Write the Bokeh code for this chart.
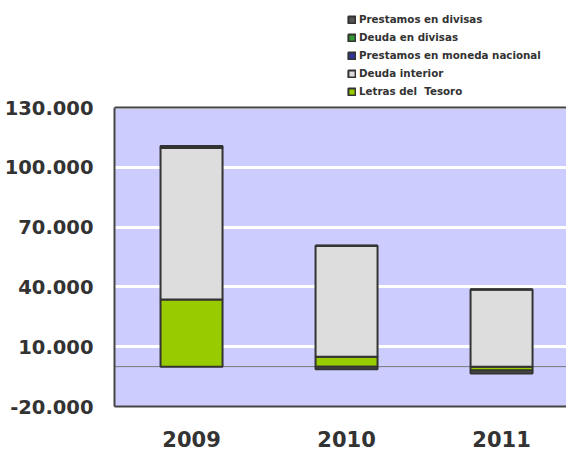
import numpy as np
from bokeh.plotting import figure
from bokeh.models import (Range1d, FixedTicker, Legend, LegendItem, Span,
                          BoxAnnotation, ColumnDataSource)
from bokeh.embed import file_html
from bokeh.resources import INLINE

# ---- data ----
years = ["2009", "2010", "2011"]
series_names = ["Letras del  Tesoro", "Deuda interior", "Prestamos en moneda nacional",
                "Deuda en divisas", "Prestamos en divisas"]
letras = [33700, 5000, -2000]
deuda_interior = [76000, 55700, 38700]
prestamos_mn = [0, 0, 0]
deuda_divisas = [1000, 0, 0]
prestamos_divisas = [0, -1300, -1500]
series_values = [letras, deuda_interior, prestamos_mn, deuda_divisas, prestamos_divisas]
colors = ["#99cc00", "#dddddd", "#333399", "#339933", "#555555"]
y_ticks = [-20000, 10000, 40000, 70000, 100000, 130000]
y_tick_labels = ["-20.000", "10.000", "40.000", "70.000", "100.000", "130.000"]

FONT = "DejaVu Sans"
TXT = "#333333"

# ---- layout (pixels) ----
W, H = 566, 453
FRAME_LEFT = 114          # left border
FRAME_BOTTOM = 47         # bottom border
AREA_TOP_PX = 107         # plot area top, measured from figure top (legend lives above)
frame_h = H - FRAME_BOTTOM
y_min, y_max = y_ticks[0], y_ticks[-1]
y_end = y_max + AREA_TOP_PX * (y_max - y_min) / (frame_h - AREA_TOP_PX)
x_start, x_end = -0.497, 2.419

p = figure(width=W, height=H,
           x_range=Range1d(x_start, x_end), y_range=Range1d(y_min, y_end),
           output_backend="svg", toolbar_location=None,
           min_border_left=FRAME_LEFT, min_border_right=0, min_border_top=0,
           min_border_bottom=FRAME_BOTTOM,
           background_fill_color="white", border_fill_color="white",
           outline_line_color=None)

# plot-area background
p.add_layout(BoxAnnotation(bottom=y_min, top=y_max, fill_color="#ccccff", fill_alpha=1,
                           line_color=None, level="image"))

# grid
p.xgrid.grid_line_color = None
p.ygrid.grid_line_color = "white"
p.ygrid.grid_line_width = 3

# zero line and top border
p.add_layout(Span(location=0, dimension="width", line_color="#777777",
                  line_width=1, level="underlay"))
p.add_layout(Span(location=y_max, dimension="width", line_color="#444444",
                  line_width=2, level="underlay"))

# stacked bars (positive and negative stacks separately)
xs = np.arange(len(years))
pos = np.zeros(len(years))
neg = np.zeros(len(years))
renderers = []
for name, vals, col in zip(series_names, series_values, colors):
    v = np.array(vals, dtype=float)
    bottom = np.where(v >= 0, pos, neg)
    top = bottom + v
    pos = np.where(v >= 0, top, pos)
    neg = np.where(v < 0, top, neg)
    src = ColumnDataSource(dict(x=xs, bottom=bottom, top=top))
    r = p.vbar(x="x", bottom="bottom", top="top", width=0.4, source=src,
               fill_color=col, line_color="#333333", line_width=2)
    renderers.append(r)

# axes
ya = p.yaxis[0]
ya.ticker = FixedTicker(ticks=y_ticks)
ya.bounds = (y_min, y_max)
ya.major_label_overrides = {t: l for t, l in zip(y_ticks, y_tick_labels)}
ya.major_tick_line_color = None
ya.minor_tick_line_color = None
ya.major_tick_out = 0
ya.major_tick_in = 0
ya.minor_tick_out = 0
ya.minor_tick_in = 0
ya.axis_line_color = "#444444"
ya.axis_line_width = 2
ya.major_label_standoff = 21
ya.major_label_text_font = FONT
ya.major_label_text_font_style = "bold"
ya.major_label_text_font_size = "19.5px"
ya.major_label_text_color = TXT

xa = p.xaxis[0]
xa.ticker = FixedTicker(ticks=list(xs))
xa.major_label_overrides = {int(i): y for i, y in zip(xs, years)}
xa.major_tick_line_color = None
xa.minor_tick_line_color = None
xa.major_tick_out = 0
xa.major_tick_in = 0
xa.minor_tick_out = 0
xa.minor_tick_in = 0
xa.axis_line_color = "#444444"
xa.axis_line_width = 2
xa.major_label_standoff = 24
xa.major_label_text_line_height = 0.6
xa.major_label_text_font = FONT
xa.major_label_text_font_style = "bold"
xa.major_label_text_font_size = "21px"
xa.major_label_text_color = TXT

# legend (top entry = top of stack)
items = [LegendItem(label=n, renderers=[r]) for n, r in zip(series_names[::-1], renderers[::-1])]
legend = Legend(items=items, location=(233, 309),
                border_line_color=None, background_fill_alpha=0,
                padding=0, margin=0, spacing=6,
                glyph_width=9, glyph_height=9, label_height=12, label_standoff=3,
                label_text_font=FONT, label_text_font_style="bold",
                label_text_font_size="10.3px", label_text_color=TXT)
p.add_layout(legend, "center")

open("out.html", "w").write(file_html(p, INLINE))
